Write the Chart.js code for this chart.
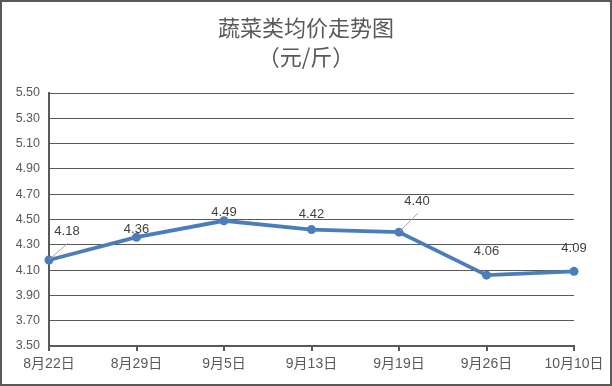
<!DOCTYPE html>
<html>
<head>
<meta charset="utf-8">
<script src="https://cdn.jsdelivr.net/npm/chart.js@4/dist/chart.umd.min.js"></script>
<style>
html,body{margin:0;padding:0;background:#fff;}
#wrap{position:relative;width:612px;height:386px;box-sizing:border-box;border:2px solid #595959;background:#fff;}
</style>
</head>
<body>
<div id="wrap"><canvas id="c"></canvas></div>
<script>
const categories = ['8月22日','8月29日','9月5日','9月13日','9月19日','9月26日','10月10日'];
const prices = [4.18, 4.36, 4.49, 4.42, 4.40, 4.06, 4.09];
const titleLines = ['蔬菜类均价走势图', '（元/斤）'];
const yMin = 3.5, yMax = 5.5, yStep = 0.2;

// label offsets (px) relative to each point, and whether a leader line is drawn
const labelOffsets = [[18,-29,true],[0,-8,false],[0,-8,false],[0,-15,false],[18,-31,true],[0,-24,false],[0,-23,false]];

const FONT = '"Liberation Sans","Noto Sans CJK SC",sans-serif';

const titlePlugin = {
  id: 'customTitle',
  afterDraw(chart) {
    const ctx = chart.ctx;
    ctx.save();
    ctx.fillStyle = '#595959';
    ctx.font = '22px "Noto Sans CJK SC",sans-serif';
    ctx.textAlign = 'center';
    ctx.textBaseline = 'middle';
    const cx = chart.width / 2;
    ctx.fillText(titleLines[0], cx, 26);
    ctx.fillText(titleLines[1], cx, 55);
    ctx.restore();
  }
};

const labelPlugin = {
  id: 'valueLabels',
  afterDatasetsDraw(chart) {
    const ctx = chart.ctx;
    const meta = chart.getDatasetMeta(0);
    ctx.save();
    ctx.font = '13px ' + FONT;
    ctx.textAlign = 'center';
    ctx.textBaseline = 'middle';
    meta.data.forEach((pt, i) => {
      const [dx, dy, leader] = labelOffsets[i];
      const lx = pt.x + dx, ly = pt.y + dy;
      if (leader) {
        ctx.strokeStyle = '#a6a6a6';
        ctx.lineWidth = 1;
        ctx.beginPath();
        ctx.moveTo(pt.x + 1, pt.y - 1);
        ctx.lineTo(lx + 1, ly + 12);
        ctx.stroke();
      }
      ctx.fillStyle = '#404040';
      ctx.fillText(prices[i].toFixed(2), lx, ly);
    });
    ctx.restore();
  }
};

new Chart(document.getElementById('c'), {
  type: 'line',
  data: {
    labels: categories,
    datasets: [{
      data: prices,
      borderColor: '#4a7ebb',
      backgroundColor: '#4a7ebb',
      borderWidth: 3.8,
      pointRadius: 4.5,
      pointBorderWidth: 0,
      pointBackgroundColor: '#4a7ebb',
      tension: 0,
      clip: false
    }]
  },
  options: {
    responsive: true,
    maintainAspectRatio: false,
    animation: false,
    devicePixelRatio: 1,
    layout: { padding: { left: 0, right: 36, top: 91, bottom: 6 } },
    plugins: {
      legend: { display: false },
      tooltip: { enabled: false },
      title: { display: false }
    },
    scales: {
      x: {
        offset: false,
        grid: { display: true, drawOnChartArea: false, drawTicks: true, tickLength: 5, color: '#595959', lineWidth: 2 },
        border: { display: true, color: '#595959', width: 2 },
        ticks: { color: '#595959', font: { family: FONT, size: 14 }, padding: 5, maxRotation: 0, autoSkip: false },
        afterFit(s) { s.height = 32; }
      },
      y: {
        min: yMin, max: yMax,
        grid: { display: true, drawTicks: false, color: '#595959', lineWidth: 1 },
        border: { display: true, color: '#595959', width: 2 },
        ticks: { stepSize: yStep, color: '#595959', font: { family: FONT, size: 12.5 }, padding: 9,
          callback: v => Number(v).toFixed(2) },
        afterFit(s) { s.width = 47; }
      }
    }
  },
  plugins: [labelPlugin, titlePlugin]
});
</script>
</body>
</html>
